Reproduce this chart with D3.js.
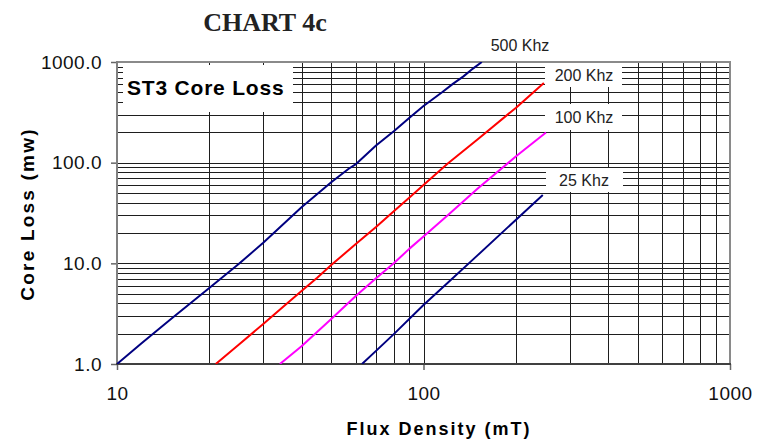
<!DOCTYPE html>
<html>
<head>
<meta charset="utf-8">
<script src="https://cdn.jsdelivr.net/npm/d3@7"></script>
<style>
  html, body { margin: 0; padding: 0; background: #fff; }
  svg { display: block; }
</style>
</head>
<body>
<svg id="chart" width="773" height="439"></svg>
<script>
// ---- data ----
const title = "CHART 4c";
const chartLabel = "ST3 Core Loss";
const xTitle = "Flux Density (mT)";
const yTitle = "Core Loss (mw)";
const xTickValues = [10, 100, 1000];
const xTickLabels = ["10", "100", "1000"];
const yTickValues = [1, 10, 100, 1000];
const yTickLabels = ["1.0", "10.0", "100.0", "1000.0"];

const seriesNames = ["500 Khz", "200 Khz", "100 Khz", "25 Khz"];
const seriesColors = ["#000080", "#ff0000", "#ff00ff", "#000080"];

const flux500 = [10, 12, 15, 20, 25, 30, 40, 50, 57, 60, 70, 80, 90, 100, 115, 125, 135, 145, 155];
const loss500 = [1.0, 1.6, 2.8, 5.7, 9.9, 16, 36, 64, 87, 96, 148, 205, 280, 365, 500, 610, 720, 860, 1000];

const flux200 = [21, 25, 30, 35, 40, 45, 50, 60, 70, 80, 90, 100, 120, 150, 200, 247];
const loss200 = [1.0, 1.56, 2.5, 3.75, 5.3, 7.2, 9.6, 15.5, 23, 33, 45, 60, 98, 170, 350, 620];

const flux100 = [34, 40, 50, 60, 70, 80, 90, 100, 120, 150, 200, 251];
const loss100 = [1.0, 1.5, 2.8, 4.7, 7.1, 10, 14, 18.5, 30, 55, 115, 199];

const flux25 = [63, 70, 80, 100, 120, 150, 200, 245];
const loss25 = [1.0, 1.35, 1.98, 3.86, 6.4, 12.0, 27, 47.7];

// ---- layout ----
const SANS = "Arial, 'Liberation Sans', sans-serif";
const SERIF = "'Times New Roman', 'Liberation Serif', serif";
const svg = d3.select("#chart");
const L = 117, R = 730, T = 62, B = 364;

const x = d3.scaleLog().domain([10, 1000]).range([L, R]);
const y = d3.scaleLog().domain([1, 1000]).range([B, T]);

// gridlines
const minorX = [];
[10, 100].forEach(d => { for (let k = 2; k <= 9; k++) minorX.push(k * d); });
minorX.push(100);
const minorY = [];
[1, 10, 100].forEach(d => { for (let k = 2; k <= 9; k++) minorY.push(k * d); });
minorY.push(10, 100);

const grid = svg.append("g").attr("shape-rendering", "crispEdges");
grid.selectAll("line.vx").data(minorX).join("line")
  .attr("x1", d => Math.round(x(d)) + 0.5).attr("x2", d => Math.round(x(d)) + 0.5)
  .attr("y1", T).attr("y2", B)
  .attr("stroke", "#1e1e1e").attr("stroke-width", 1);
grid.selectAll("line.hy").data(minorY).join("line")
  .attr("y1", d => Math.round(y(d)) + 0.5).attr("y2", d => Math.round(y(d)) + 0.5)
  .attr("x1", L).attr("x2", R)
  .attr("stroke", "#1e1e1e").attr("stroke-width", 1);

// white label boxes (data labels) over the grid
const boxes = [
  {x0: 123, y0: 65, x1: 293, y1: 112},
  {x0: 545, y0: 62, x1: 622, y1: 87},
  {x0: 545, y0: 104, x1: 622, y1: 130},
  {x0: 546, y0: 168, x1: 623, y1: 192}
];
svg.append("g").selectAll("rect").data(boxes).join("rect")
  .attr("x", d => d.x0).attr("y", d => d.y0)
  .attr("width", d => d.x1 - d.x0).attr("height", d => d.y1 - d.y0)
  .attr("fill", "#fff");

// plot border
svg.append("line").attr("x1", L).attr("x2", R + 1).attr("y1", T).attr("y2", T)
  .attr("stroke", "#8a8a8a").attr("stroke-width", 2);
svg.append("line").attr("x1", R).attr("x2", R).attr("y1", T).attr("y2", B)
  .attr("stroke", "#8a8a8a").attr("stroke-width", 2);

// axes
const yAxis = d3.axisLeft(y).tickValues(yTickValues)
  .tickFormat((d, i) => yTickLabels[i]).tickSize(6).tickPadding(9);
const gy = svg.append("g").attr("transform", `translate(${L},0)`).call(yAxis);
gy.select(".domain").remove();
gy.selectAll(".tick line").attr("stroke", "#666").attr("stroke-width", 1.5);
gy.selectAll(".tick text").style("font-size", "19px").style("letter-spacing", "0.5px")
  .style("font-family", SANS).style("fill", "#111");

const xAxis = d3.axisBottom(x).tickValues(xTickValues)
  .tickFormat((d, i) => xTickLabels[i]).tickSize(6).tickPadding(17);
const gx = svg.append("g").attr("transform", `translate(0,${B})`).call(xAxis);
gx.select(".domain").remove();
gx.selectAll(".tick line").attr("stroke", "#666").attr("stroke-width", 1.5);
gx.selectAll(".tick text").style("font-size", "19px").style("letter-spacing", "0.5px")
  .style("font-family", SANS).style("fill", "#111");

svg.append("line").attr("x1", L).attr("x2", L).attr("y1", T - 1).attr("y2", B + 1)
  .attr("stroke", "#808080").attr("stroke-width", 2);
svg.append("line").attr("x1", L - 1).attr("x2", R + 1).attr("y1", B).attr("y2", B)
  .attr("stroke", "#404040").attr("stroke-width", 2);

// series
const series = [
  {flux: flux500, loss: loss500},
  {flux: flux200, loss: loss200},
  {flux: flux100, loss: loss100},
  {flux: flux25, loss: loss25}
];
svg.append("clipPath").attr("id", "clip").append("rect")
  .attr("x", L).attr("y", T).attr("width", R - L).attr("height", B - T);
const line = d3.line().x(d => x(d[0])).y(d => y(d[1]));
svg.append("g").attr("clip-path", "url(#clip)").selectAll("path").data(series).join("path")
  .attr("d", s => line(s.flux.map((f, i) => [f, s.loss[i]])))
  .attr("fill", "none")
  .attr("stroke", (s, i) => seriesColors[i])
  .attr("stroke-width", 2)
  .attr("stroke-linejoin", "round");

// series labels
const labelPos = [[520, 45], [584, 75], [584, 117], [584, 180]];
svg.append("g").selectAll("text").data(seriesNames).join("text")
  .attr("x", (d, i) => labelPos[i][0]).attr("y", (d, i) => labelPos[i][1])
  .attr("text-anchor", "middle").attr("dominant-baseline", "central")
  .style("font-family", SANS).style("font-size", "16px").style("fill", "#222")
  .text(d => d);

// chart label
svg.append("text").attr("x", 127).attr("y", 95)
  .style("font-family", SANS).style("font-size", "21px").style("font-weight", "bold")
  .style("letter-spacing", "0.8px").style("fill", "#000")
  .text(chartLabel);

// title
svg.append("text").attr("x", 265).attr("y", 31).attr("text-anchor", "middle")
  .style("font-family", SERIF).style("font-size", "26px").style("font-weight", "bold")
  .style("fill", "#222")
  .text(title);

// axis titles
svg.append("text").attr("x", 439).attr("y", 435).attr("text-anchor", "middle")
  .style("font-family", SANS).style("font-size", "18px").style("font-weight", "bold")
  .style("letter-spacing", "2px").style("fill", "#000")
  .text(xTitle);
svg.append("text").attr("transform", "translate(34,214) rotate(-90)")
  .attr("text-anchor", "middle")
  .style("font-family", SANS).style("font-size", "19px").style("font-weight", "bold")
  .style("letter-spacing", "2.2px").style("fill", "#000")
  .text(yTitle);
</script>
</body>
</html>
